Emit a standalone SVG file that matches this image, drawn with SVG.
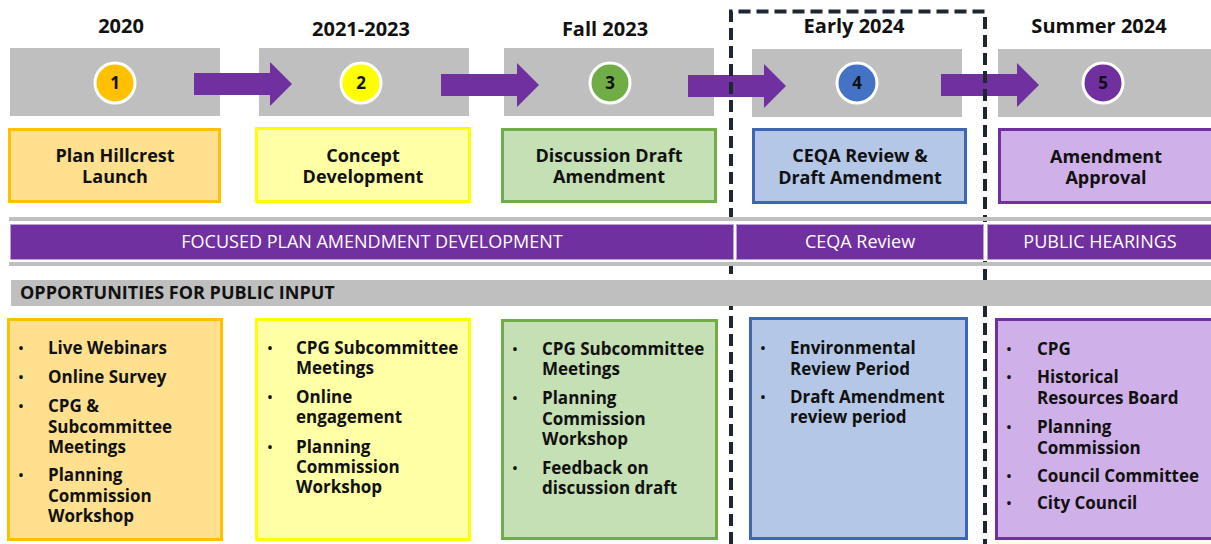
<svg xmlns="http://www.w3.org/2000/svg" width="1211" height="544" viewBox="0 0 1211 544">
  <defs>
    <style>
      text { font-family: "Open Sans", "Liberation Sans", sans-serif; fill: #111; }
      .year { font-size: 20px; font-weight: 700; text-anchor: middle; }
      .stage { fill: #BFBFBF; }
      .ring { stroke: #FFFFFF; stroke-width: 3; }
      .num { font-size: 17px; font-weight: 700; text-anchor: middle; }
      .title { font-size: 18px; font-weight: 700; text-anchor: middle; }
      .box { stroke-width: 3; }
      .orange { fill: #FFE08E; stroke: #FFC000; }
      .yellow { fill: #FFFFA6; stroke: #FFFF00; }
      .green { fill: #C5E0B4; stroke: #70AD47; }
      .blue { fill: #B4C7E7; stroke: #3E66B2; }
      .violet { fill: #D0B0E8; stroke: #7030A0; }
      .arrow { fill: #7030A0; }
      .frame { fill: none; stroke: #1F2633; stroke-width: 4; stroke-dasharray: 12 6; }
      .rule { fill: #BFBFBF; }
      .band { fill: #7030A0; stroke: #B9A2D0; stroke-width: 1; }
      .bandtext { font-size: 18px; fill: #FFFFFF; text-anchor: middle; }
      .head { font-size: 18px; font-weight: 700; }
      .item { font-size: 17px; font-weight: 700; }
      .dot { font-size: 17px; text-anchor: middle; }
    </style>
  </defs>

  <!-- timeline stages: year, grey block and numbered marker -->
  <g id="stage-1">
    <text class="year" x="121" y="33">2020</text>
    <rect class="stage" x="10" y="48" width="210" height="68"/>
    <circle class="ring" cx="115" cy="83" r="20" fill="#FFC000"/>
    <text class="num" x="115" y="89">1</text>
  </g>
  <g id="stage-2">
    <text class="year" x="361" y="36">2021-2023</text>
    <rect class="stage" x="259" y="48" width="210" height="68"/>
    <circle class="ring" cx="361" cy="83" r="20" fill="#FFFF00"/>
    <text class="num" x="361" y="89">2</text>
  </g>
  <g id="stage-3">
    <text class="year" x="605" y="36">Fall 2023</text>
    <rect class="stage" x="504" y="48" width="210" height="68"/>
    <circle class="ring" cx="610" cy="83" r="20" fill="#70AD47"/>
    <text class="num" x="610" y="89">3</text>
  </g>
  <g id="stage-4">
    <text class="year" x="854" y="33">Early 2024</text>
    <rect class="stage" x="752" y="49" width="210" height="68"/>
    <circle class="ring" cx="857" cy="83" r="20" fill="#4472C4"/>
    <text class="num" x="857" y="89">4</text>
  </g>
  <g id="stage-5">
    <text class="year" x="1099" y="33">Summer 2024</text>
    <rect class="stage" x="998" y="49" width="220" height="68"/>
    <circle class="ring" cx="1103" cy="83" r="20" fill="#7030A0"/>
    <text class="num" x="1103" y="89">5</text>
  </g>

  <!-- block arrows between stages -->
  <g id="connectors">
    <polygon class="arrow" points="194,73 270,73 270,62 292,84 270,106 270,95 194,95"/>
    <polygon class="arrow" points="441,74 517,74 517,63 539,85 517,107 517,96 441,96"/>
    <polygon class="arrow" points="688,75 764,75 764,64 786,86 764,108 764,97 688,97"/>
    <polygon class="arrow" points="941,74 1017,74 1017,63 1039,85 1017,107 1017,96 941,96"/>
  </g>

  <!-- stage titles -->
  <g id="title-1">
    <rect class="box orange" x="9.5" y="129.5" width="210" height="72"/>
    <text class="title" x="115" y="162">Plan Hillcrest</text>
    <text class="title" x="115" y="183">Launch</text>
  </g>
  <g id="title-2">
    <rect class="box yellow" x="256.5" y="128.5" width="213" height="73"/>
    <text class="title" x="363" y="162">Concept</text>
    <text class="title" x="363" y="183">Development</text>
  </g>
  <g id="title-3">
    <rect class="box green" x="502.5" y="129.5" width="213" height="72"/>
    <text class="title" x="609" y="162">Discussion Draft</text>
    <text class="title" x="609" y="183">Amendment</text>
  </g>
  <g id="title-4">
    <rect class="box blue" x="753.5" y="129.5" width="212" height="73"/>
    <text class="title" x="860" y="162">CEQA Review &amp;</text>
    <text class="title" x="860" y="184">Draft Amendment</text>
  </g>
  <g id="title-5">
    <rect class="box violet" x="999.5" y="129.5" width="220" height="73"/>
    <text class="title" x="1106" y="163">Amendment</text>
    <text class="title" x="1106" y="184">Approval</text>
  </g>

  <!-- dashed frame around the CEQA stage -->
  <path id="ceqa-frame" class="frame" d="M731,544 V11.5 H985 V544"/>

  <!-- phase bands -->
  <g id="phases">
    <rect class="rule" x="9" y="217" width="1202" height="4"/>
    <rect x="9" y="222" width="1202" height="39" fill="#FFFFFF"/>
    <rect class="band" x="10.5" y="224.5" width="723" height="35"/>
    <rect class="band" x="736.5" y="224.5" width="247" height="35"/>
    <rect class="band" x="987.5" y="224.5" width="230" height="35"/>
    <rect class="rule" x="9" y="262" width="1202" height="4"/>
    <text class="bandtext" x="372" y="248">FOCUSED PLAN AMENDMENT DEVELOPMENT</text>
    <text class="bandtext" x="860" y="248">CEQA Review</text>
    <text class="bandtext" x="1100" y="248">PUBLIC HEARINGS</text>
  </g>

  <g id="input-header">
    <rect class="rule" x="11" y="280" width="1200" height="26"/>
    <text class="head" x="20" y="299">OPPORTUNITIES FOR PUBLIC INPUT</text>
  </g>

  <!-- public input lists -->
  <g id="input-1">
    <rect class="box orange" x="8.5" y="319.5" width="213" height="220"/>
    <text class="dot" x="21" y="354">•</text>
    <text class="item" x="48" y="354">Live Webinars</text>
    <text class="dot" x="21" y="383">•</text>
    <text class="item" x="48" y="383">Online Survey</text>
    <text class="dot" x="21" y="412">•</text>
    <text class="item"><tspan x="48" y="412">CPG &amp;</tspan><tspan x="48" y="433">Subcommittee</tspan><tspan x="48" y="453">Meetings</tspan></text>
    <text class="dot" x="21" y="481">•</text>
    <text class="item"><tspan x="48" y="481">Planning</tspan><tspan x="48" y="502">Commission</tspan><tspan x="48" y="522">Workshop</tspan></text>
  </g>
  <g id="input-2">
    <rect class="box yellow" x="256.5" y="319.5" width="213" height="220"/>
    <text class="dot" x="270" y="354">•</text>
    <text class="item"><tspan x="296" y="354">CPG Subcommittee</tspan><tspan x="296" y="374">Meetings</tspan></text>
    <text class="dot" x="270" y="403">•</text>
    <text class="item"><tspan x="296" y="403">Online</tspan><tspan x="296" y="423">engagement</tspan></text>
    <text class="dot" x="270" y="453">•</text>
    <text class="item"><tspan x="296" y="453">Planning</tspan><tspan x="296" y="473">Commission</tspan><tspan x="296" y="493">Workshop</tspan></text>
  </g>
  <g id="input-3">
    <rect class="box green" x="502.5" y="320.5" width="214" height="218"/>
    <text class="dot" x="515" y="355">•</text>
    <text class="item"><tspan x="542" y="355">CPG Subcommittee</tspan><tspan x="542" y="375">Meetings</tspan></text>
    <text class="dot" x="515" y="404">•</text>
    <text class="item"><tspan x="542" y="404">Planning</tspan><tspan x="542" y="425">Commission</tspan><tspan x="542" y="445">Workshop</tspan></text>
    <text class="dot" x="515" y="474">•</text>
    <text class="item"><tspan x="542" y="474">Feedback on</tspan><tspan x="542" y="494">discussion draft</tspan></text>
  </g>
  <g id="input-4">
    <rect class="box blue" x="750.5" y="318.5" width="216" height="220"/>
    <text class="dot" x="763" y="354">•</text>
    <text class="item"><tspan x="790" y="354">Environmental</tspan><tspan x="790" y="375">Review Period</tspan></text>
    <text class="dot" x="763" y="403">•</text>
    <text class="item"><tspan x="790" y="403">Draft Amendment</tspan><tspan x="790" y="423">review period</tspan></text>
  </g>
  <g id="input-5">
    <rect class="box violet" x="996.5" y="319.5" width="222" height="219"/>
    <text class="dot" x="1009" y="355">•</text>
    <text class="item" x="1037" y="355">CPG</text>
    <text class="dot" x="1009" y="383">•</text>
    <text class="item"><tspan x="1037" y="383">Historical</tspan><tspan x="1037" y="404">Resources Board</tspan></text>
    <text class="dot" x="1009" y="433">•</text>
    <text class="item"><tspan x="1037" y="433">Planning</tspan><tspan x="1037" y="454">Commission</tspan></text>
    <text class="dot" x="1009" y="482">•</text>
    <text class="item" x="1037" y="482">Council Committee</text>
    <text class="dot" x="1009" y="509">•</text>
    <text class="item" x="1037" y="509">City Council</text>
  </g>
</svg>
